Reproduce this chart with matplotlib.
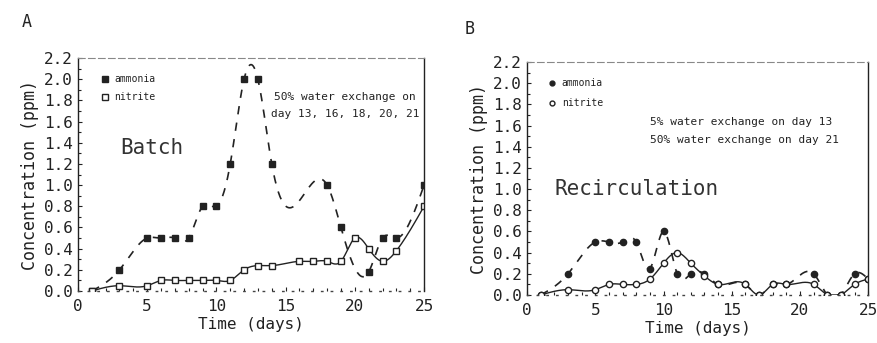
import numpy as np
import matplotlib
matplotlib.use("Agg")
import matplotlib.pyplot as plt
from matplotlib.ticker import MultipleLocator

plt.rcParams['font.family'] = ['DejaVu Sans Mono']

# ---- Data: panel A (Batch) ----
a_amm_days = [1, 3, 5, 6, 7, 8, 9, 10, 11, 12, 13, 14, 18, 19, 21, 22, 23, 25]
a_amm_vals = [0.0, 0.2, 0.5, 0.5, 0.5, 0.5, 0.8, 0.8, 1.2, 2.0, 2.0, 1.2, 1.0, 0.6, 0.18, 0.5, 0.5, 1.0]
a_nit_days = [1, 3, 5, 6, 7, 8, 9, 10, 11, 12, 13, 14, 16, 17, 18, 19, 20, 21, 22, 23, 25]
a_nit_vals = [0.0, 0.05, 0.05, 0.1, 0.1, 0.1, 0.1, 0.1, 0.1, 0.2, 0.24, 0.24, 0.28, 0.28, 0.28, 0.28, 0.5, 0.4, 0.28, 0.38, 0.8]

# ---- Data: panel B (Recirculation) ----
b_amm_days = [1, 3, 5, 6, 7, 8, 9, 10, 11, 12, 13, 14, 16, 17, 18, 19, 21, 22, 23, 24, 25]
b_amm_vals = [0.0, 0.2, 0.5, 0.5, 0.5, 0.5, 0.25, 0.6, 0.2, 0.2, 0.2, 0.1, 0.1, 0.0, 0.1, 0.1, 0.2, 0.0, 0.0, 0.2, 0.15]
b_nit_days = [1, 3, 5, 6, 7, 8, 9, 10, 11, 12, 13, 14, 16, 17, 18, 19, 21, 22, 23, 24, 25]
b_nit_vals = [0.0, 0.05, 0.05, 0.1, 0.1, 0.1, 0.15, 0.3, 0.4, 0.3, 0.18, 0.1, 0.1, 0.0, 0.1, 0.1, 0.1, 0.0, 0.0, 0.1, 0.15]

x_ticks = [0, 5, 10, 15, 20, 25]
y_ticks = [0.0, 0.2, 0.4, 0.6, 0.8, 1.0, 1.2, 1.4, 1.6, 1.8, 2.0, 2.2]


def natural_spline(x, y, n=400):
    x = np.asarray(x, float)
    y = np.asarray(y, float)
    k = len(x)
    h = np.diff(x)
    A = np.zeros((k, k))
    r = np.zeros(k)
    A[0, 0] = 1
    A[-1, -1] = 1
    for i in range(1, k - 1):
        A[i, i - 1] = h[i - 1]
        A[i, i] = 2 * (h[i - 1] + h[i])
        A[i, i + 1] = h[i]
        r[i] = 6 * ((y[i + 1] - y[i]) / h[i] - (y[i] - y[i - 1]) / h[i - 1])
    M = np.linalg.solve(A, r)
    xs = np.linspace(x[0], x[-1], n)
    idx = np.clip(np.searchsorted(x, xs) - 1, 0, k - 2)
    x0, x1 = x[idx], x[idx + 1]
    y0, y1 = y[idx], y[idx + 1]
    m0, m1 = M[idx], M[idx + 1]
    hh = x1 - x0
    t1 = x1 - xs
    t0 = xs - x0
    ys = (m0 * t1 ** 3 + m1 * t0 ** 3) / (6 * hh) + (y0 / hh - m0 * hh / 6) * t1 + (y1 / hh - m1 * hh / 6) * t0
    return xs, ys


fig = plt.figure(figsize=(8.77, 3.43), dpi=100)
axA = fig.add_axes([0.0889, 0.1516, 0.3946, 0.679])
axB = fig.add_axes([0.601, 0.140, 0.389, 0.679])

ink = '#222222'


def style_axes(ax):
    ax.set_xlim(0, 25)
    ax.set_ylim(0, 2.2)
    ax.set_xticks(x_ticks)
    ax.set_yticks(y_ticks)
    ax.set_yticklabels([f"{v:.1f}" for v in y_ticks])
    ax.xaxis.set_minor_locator(MultipleLocator(1))
    ax.yaxis.set_minor_locator(MultipleLocator(0.1))
    ax.tick_params(axis='both', which='both', direction='in', colors=ink,
                   labelsize=11.5, width=0.8)
    ax.tick_params(which='major', length=3)
    ax.tick_params(which='minor', length=2)
    ax.tick_params(axis='x', pad=6)
    ax.set_xlabel('Time (days)', fontsize=11.5, color=ink, labelpad=2)
    ax.set_ylabel('Concentration (ppm)', fontsize=12, color=ink, labelpad=4)
    for s in ['left', 'right']:
        ax.spines[s].set_color(ink)
        ax.spines[s].set_linewidth(1.0)
    ax.spines['top'].set_color('#888888')
    ax.spines['top'].set_linestyle((0, (6, 3)))
    ax.spines['top'].set_linewidth(0.8)
    ax.spines['bottom'].set_color('#444444')
    ax.spines['bottom'].set_linestyle((0, (1, 6)))
    ax.spines['bottom'].set_linewidth(1.0)


dash = (0, (5, 5))

# Panel A
xs, ys = natural_spline(a_amm_days, a_amm_vals)
axA.plot(xs, ys, color=ink, lw=1.2, linestyle=dash)
axA.plot(a_amm_days, a_amm_vals, 's', color=ink, ms=4.5, mec=ink)
xs, ys = natural_spline(a_nit_days, a_nit_vals)
axA.plot(xs, ys, color=ink, lw=1.0)
axA.plot(a_nit_days, a_nit_vals, 's', mfc='white', mec=ink, ms=4.5, mew=1.0)
style_axes(axA)

axA.plot([1.95], [2.0], 's', color=ink, ms=4)
axA.text(2.6, 2.0, 'ammonia', fontsize=7, color=ink, va='center')
axA.plot([1.95], [1.83], 's', mfc='white', mec=ink, ms=4)
axA.text(2.6, 1.83, 'nitrite', fontsize=7, color=ink, va='center')
axA.text(5.3, 1.35, 'Batch', fontsize=15, color='#333333', ha='center', va='center')
axA.text(19.3, 1.83, '50% water exchange on', fontsize=8, color=ink, ha='center', va='center')
axA.text(19.3, 1.67, 'day 13, 16, 18, 20, 21', fontsize=8, color=ink, ha='center', va='center')

# Panel B
xs, ys = natural_spline(b_amm_days, b_amm_vals)
axB.plot(xs, np.clip(ys, 0, None), color=ink, lw=1.2, linestyle=dash)
axB.plot(b_amm_days, b_amm_vals, 'o', color=ink, ms=4.5)
xs, ys = natural_spline(b_nit_days, b_nit_vals)
axB.plot(xs, np.clip(ys, 0, None), color=ink, lw=1.0)
axB.plot(b_nit_days, b_nit_vals, 'o', mfc='white', mec=ink, ms=4.5, mew=1.0)
style_axes(axB)

axB.plot([1.85], [2.0], 'o', color=ink, ms=3.5)
axB.text(2.55, 2.0, 'ammonia', fontsize=7, color=ink, va='center')
axB.plot([1.85], [1.81], 'o', mfc='white', mec=ink, ms=3.5)
axB.text(2.55, 1.81, 'nitrite', fontsize=7, color=ink, va='center')
axB.text(9.0, 1.63, '5% water exchange on day 13', fontsize=8, color=ink, va='center')
axB.text(9.0, 1.46, '50% water exchange on day 21', fontsize=8, color=ink, va='center')
axB.text(2.0, 1.0, 'Recirculation', fontsize=15, color='#333333', va='center')

fig.text(27 / 877, 1 - 22 / 343, 'A', fontsize=12, color=ink, ha='center', va='center')
fig.text(470 / 877, 1 - 29 / 343, 'B', fontsize=12, color=ink, ha='center', va='center')

fig.savefig('out.png', dpi=100)
